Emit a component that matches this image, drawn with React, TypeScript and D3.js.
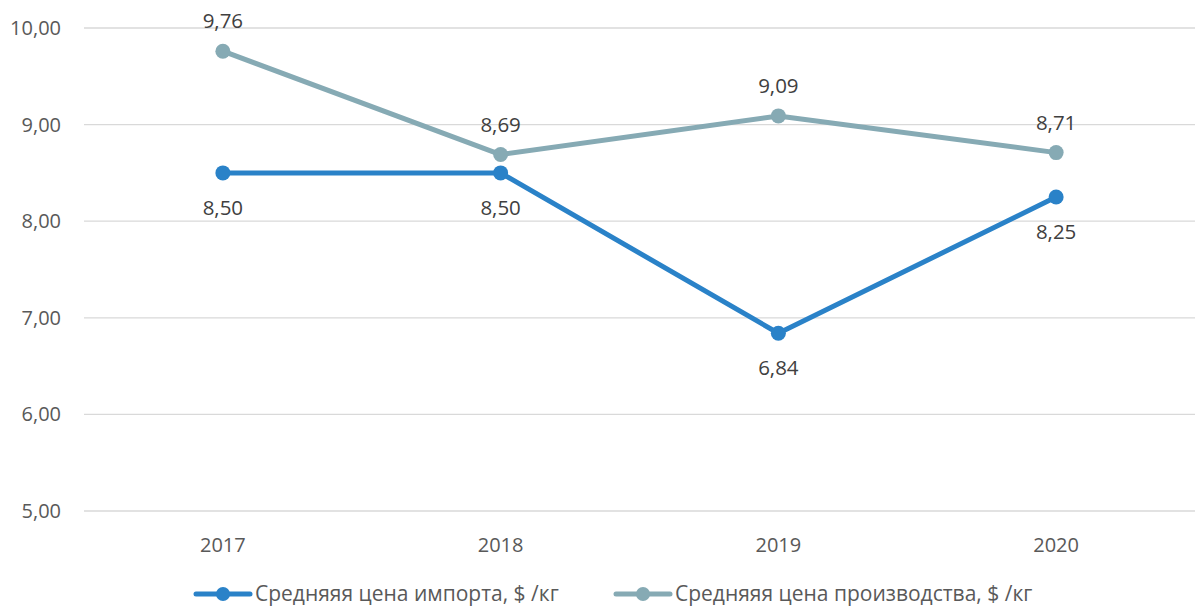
import React, { useEffect, useRef } from 'react';
import * as d3 from 'd3';

const years: string[] = ['2017', '2018', '2019', '2020'];
const importPrice: number[] = [8.5, 8.5, 6.84, 8.25];
const prodPrice: number[] = [9.76, 8.69, 9.09, 8.71];
const yTicks: number[] = [5, 6, 7, 8, 9, 10];

const series = [
  { name: 'Средняяя цена импорта, $ /кг', values: importPrice, color: '#2a82c8', labelPos: 'below' },
  { name: 'Средняяя цена производства, $ /кг', values: prodPrice, color: '#86aab4', labelPos: 'above' },
];

export default function App() {
  const ref = useRef<SVGSVGElement>(null);

  useEffect(() => {
    const width = 1195;
    const height = 607;
    const margin = { top: 28, bottom: 96, left: 84, right: 0 };
    const font = '"Open Sans", sans-serif';

    const svg = d3.select(ref.current);
    svg.selectAll('*').remove();

    const fmt = (v: number) => v.toFixed(2).replace('.', ',');

    const xScale = d3
      .scaleBand()
      .domain(years)
      .range([margin.left, width - margin.right]);

    const yScale = d3
      .scaleLinear()
      .domain([5, 10])
      .range([height - margin.bottom, margin.top]);

    const xPos = (d: string) => (xScale(d) as number) + xScale.bandwidth() / 2;

    // gridlines
    svg
      .append('g')
      .selectAll('line')
      .data(yTicks)
      .enter()
      .append('line')
      .attr('x1', margin.left)
      .attr('x2', width - margin.right)
      .attr('y1', (d) => yScale(d))
      .attr('y2', (d) => yScale(d))
      .attr('stroke', '#d9d9d9')
      .attr('stroke-width', 1.3);

    // y tick labels
    svg
      .append('g')
      .selectAll('text')
      .data(yTicks)
      .enter()
      .append('text')
      .attr('x', 61)
      .attr('y', (d) => yScale(d))
      .attr('dy', '0.35em')
      .attr('text-anchor', 'end')
      .attr('font-family', font)
      .attr('font-size', 20)
      .attr('fill', '#595959')
      .text((d) => fmt(d));

    // x labels
    svg
      .append('g')
      .selectAll('text')
      .data(years)
      .enter()
      .append('text')
      .attr('x', (d) => xPos(d))
      .attr('y', 545)
      .attr('dy', '0.35em')
      .attr('text-anchor', 'middle')
      .attr('font-family', font)
      .attr('font-size', 20)
      .attr('fill', '#595959')
      .text((d) => d);

    const line = d3
      .line<number>()
      .x((d, i) => xPos(years[i]))
      .y((d) => yScale(d));

    for (const s of series) {
      const g = svg.append('g');
      g.append('path')
        .datum(s.values)
        .attr('d', line)
        .attr('fill', 'none')
        .attr('stroke', s.color)
        .attr('stroke-width', 5)
        .attr('stroke-linejoin', 'round')
        .attr('stroke-linecap', 'round');

      g.selectAll('circle')
        .data(s.values)
        .enter()
        .append('circle')
        .attr('cx', (d, i) => xPos(years[i]))
        .attr('cy', (d) => yScale(d))
        .attr('r', 7.5)
        .attr('fill', s.color);

      g.selectAll('text')
        .data(s.values)
        .enter()
        .append('text')
        .attr('x', (d, i) => xPos(years[i]))
        .attr('y', (d) => yScale(d) + (s.labelPos === 'above' ? -30 : 35))
        .attr('dy', '0.35em')
        .attr('text-anchor', 'middle')
        .attr('font-family', font)
        .attr('font-size', 20.5)
        .attr('fill', '#404040')
        .text((d) => fmt(d));
    }

    // legend
    const legendX = [196, 616];
    const legendY = 594;
    series.forEach((s, i) => {
      const lg = svg.append('g').attr('transform', `translate(${legendX[i]}, ${legendY})`);
      lg.append('line')
        .attr('x1', 0)
        .attr('x2', 54)
        .attr('y1', 0)
        .attr('y2', 0)
        .attr('stroke', s.color)
        .attr('stroke-width', 5)
        .attr('stroke-linecap', 'round');
      lg.append('circle').attr('cx', 27).attr('cy', 0).attr('r', 7).attr('fill', s.color);
      lg.append('text')
        .attr('x', 59)
        .attr('y', 0)
        .attr('dy', '0.35em')
        .attr('font-family', font)
        .attr('font-size', 21)
        .attr('fill', '#595959')
        .text(s.name);
    });
  }, []);

  return (
    <svg
      ref={ref}
      width={1195}
      height={607}
      style={{ position: 'absolute', left: 0, top: 0, background: '#fff' }}
    />
  );
}
